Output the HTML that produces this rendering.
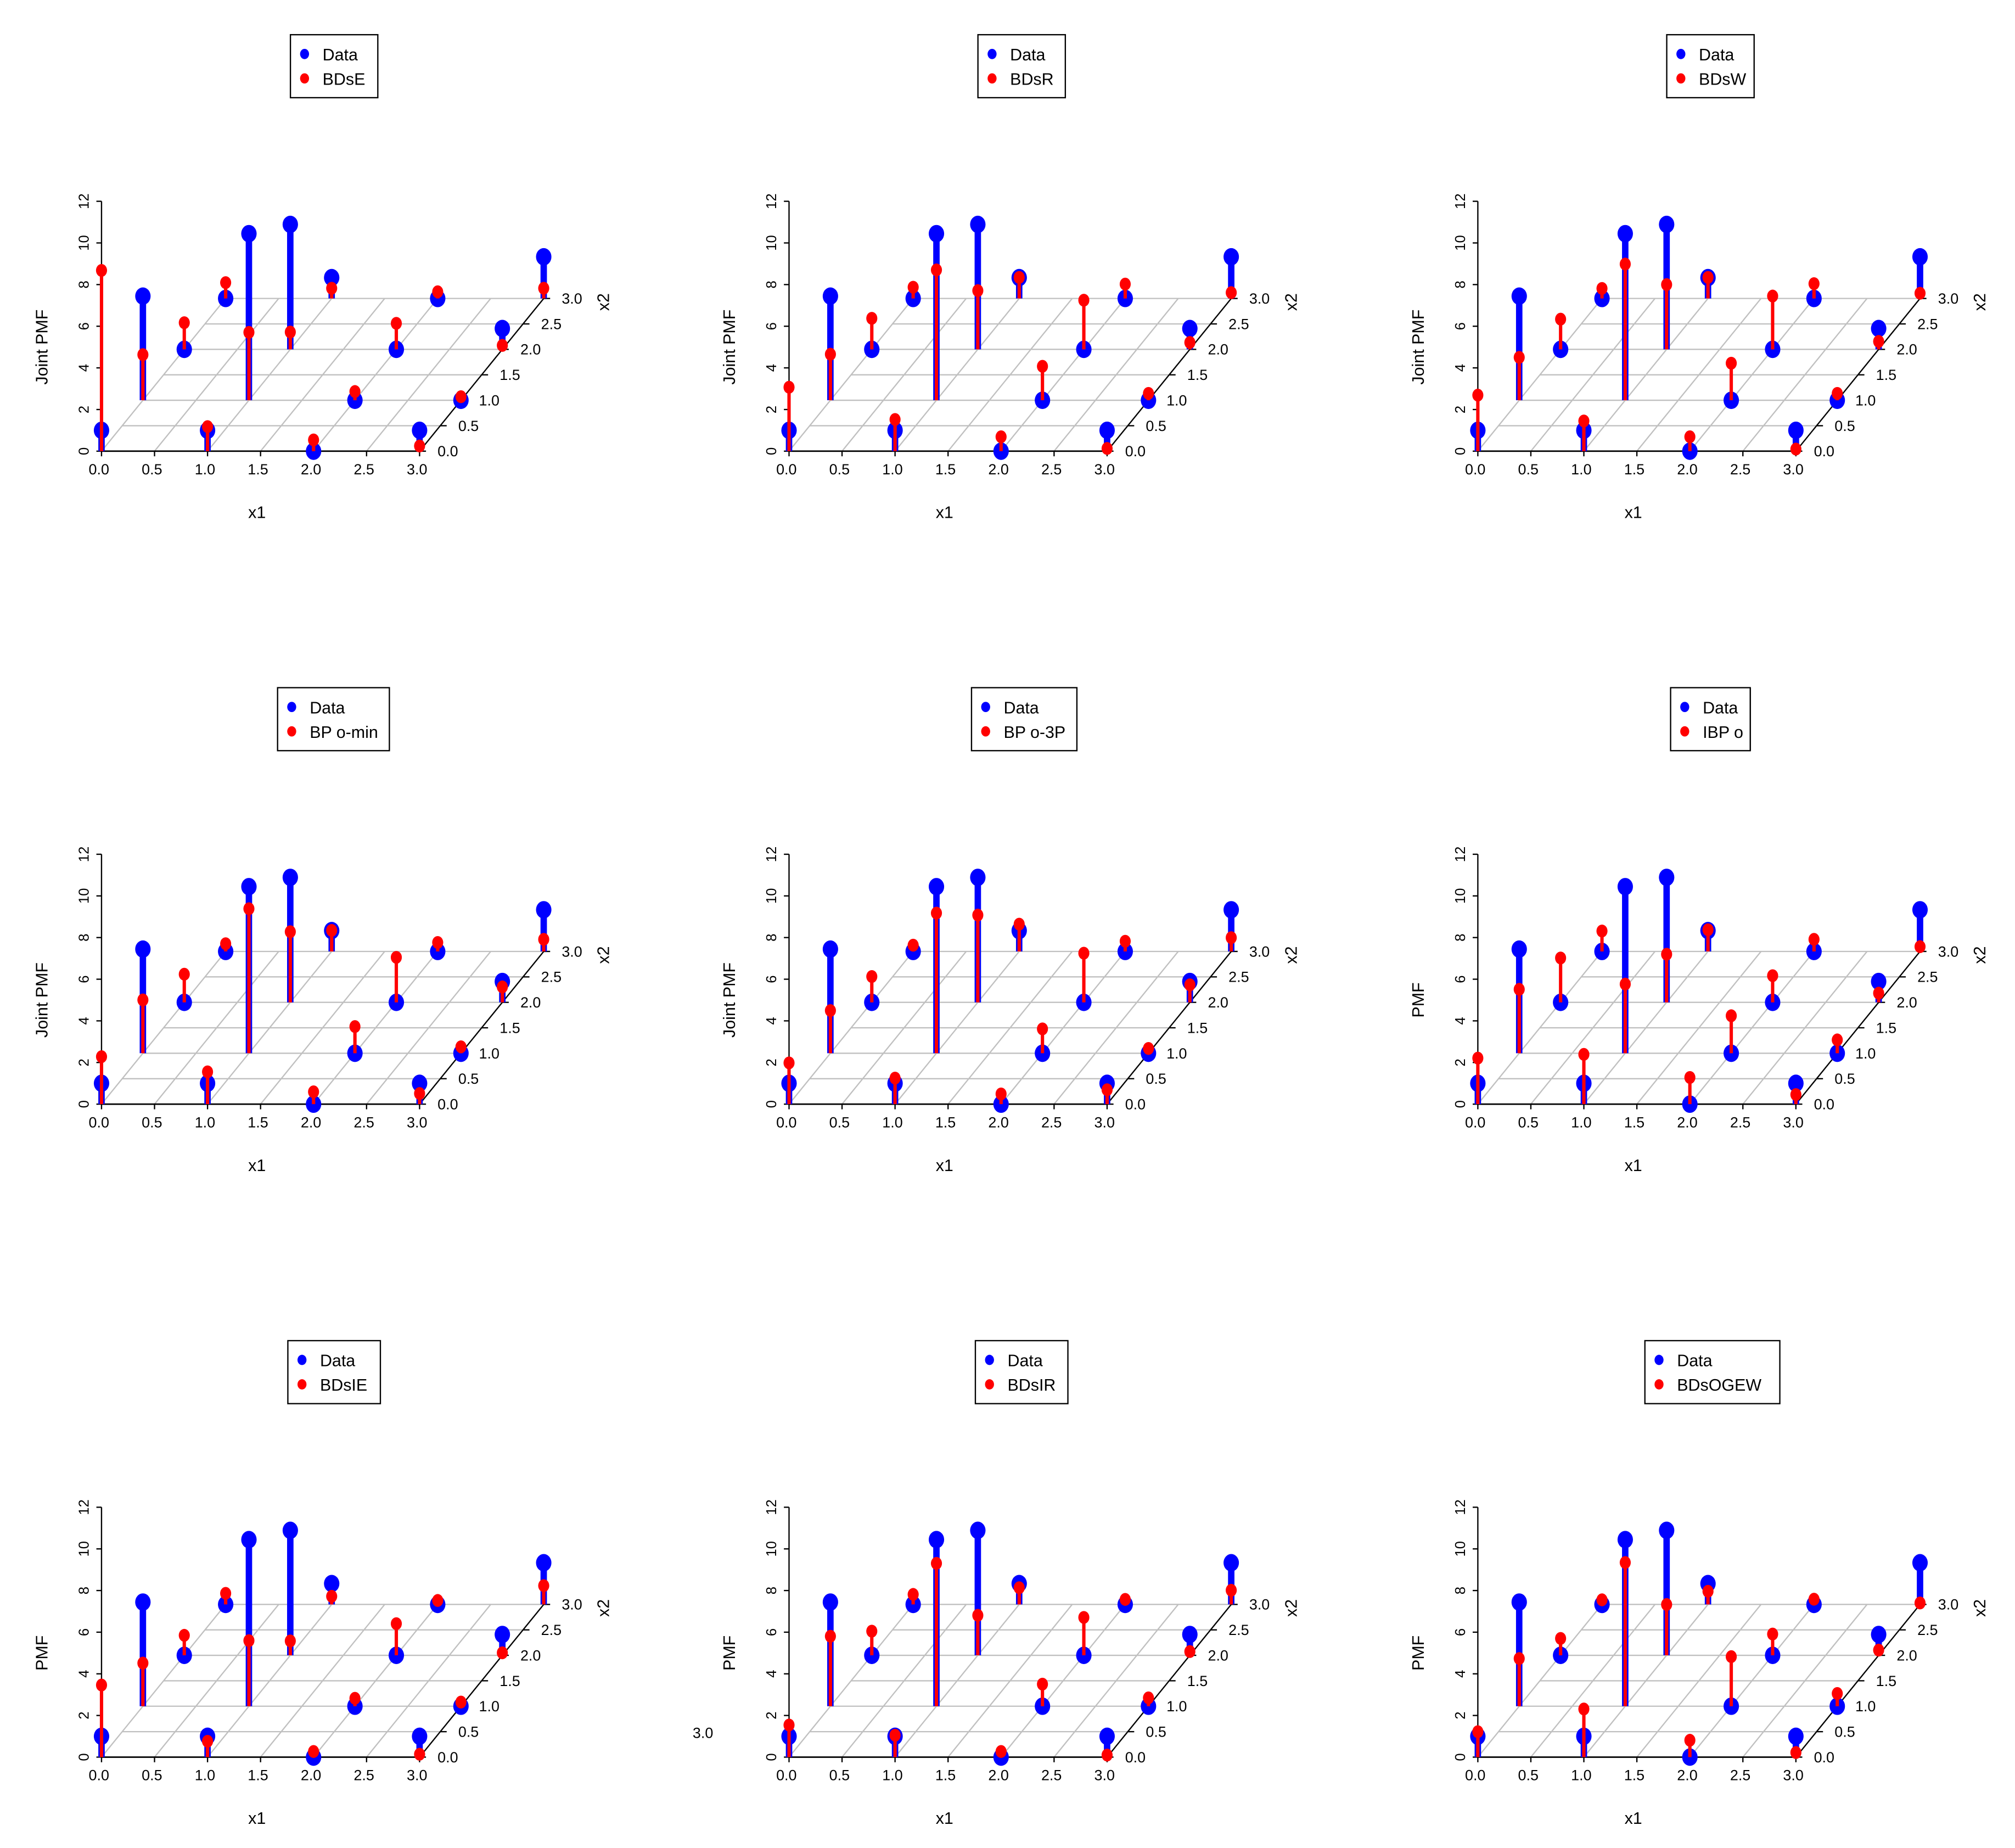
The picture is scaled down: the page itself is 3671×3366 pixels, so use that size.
<!DOCTYPE html>
<html><head><meta charset="utf-8"><style>
html,body{margin:0;padding:0;background:#fff;}
svg{display:block;}
text{font-family:"Liberation Sans",sans-serif;}
</style></head><body>
<svg id="fig" width="3671" height="3366" viewBox="0 0 1568 1437.7" preserveAspectRatio="none" xmlns="http://www.w3.org/2000/svg">
<rect x="0" y="0" width="1568" height="1437.7" fill="#fff"/>
</svg>
<script>
// Observed data (index = x1*4 + x2)
const dataZ = [1.0,5.0,0.0,0.0, 1.0,8.0,6.0,1.0, 0.0,0.0,0.0,0.0, 1.0,0.0,1.0,2.0];
const modelBDsE   = [8.68,2.19,1.28,0.76, 1.18,3.26,0.83,0.49, 0.54,0.42,1.25,0.32, 0.25,0.17,0.19,0.49];
const modelBDsR   = [3.07,2.21,1.49,0.54, 1.52,6.26,2.82,1.01, 0.69,1.63,2.36,0.69, 0.13,0.33,0.33,0.28];
const modelBDsW   = [2.69,2.06,1.45,0.48, 1.45,6.54,3.11,1.01, 0.69,1.78,2.56,0.71, 0.10,0.33,0.38,0.25];
const modelBPmin  = [2.28,2.56,1.35,0.37, 1.55,6.94,3.39,1.01, 0.59,1.28,2.16,0.43, 0.51,0.31,0.74,0.58];
const modelBP3P   = [1.98,2.05,1.24,0.30, 1.25,6.73,4.19,1.31, 0.49,1.17,2.36,0.49, 0.69,0.23,0.84,0.66];
const modelIBP    = [2.21,3.07,2.13,0.98, 2.39,3.32,2.31,1.04, 1.28,1.80,1.28,0.58, 0.46,0.64,0.44,0.23];
const modelBDsIE  = [3.46,2.07,0.96,0.53, 0.76,3.15,0.69,0.39, 0.27,0.38,1.52,0.19, 0.14,0.20,0.12,0.90];
const modelBDsIR  = [1.54,3.36,1.16,0.48, 1.05,6.86,1.92,0.80, 0.27,1.06,1.82,0.24, 0.10,0.40,0.18,0.68];
const modelBDsOGEW= [1.22,2.29,0.81,0.22, 2.31,6.90,2.44,0.63, 0.81,2.38,1.02,0.25, 0.22,0.61,0.25,0.07];
const modelNames = ["BDsE","BDsR","BDsW","BP  o-min","BP  o-3P","IBP  o","BDsIE","BDsIR","BDsOGEW"];
const zTitles = ["Joint PMF","Joint PMF","Joint PMF","Joint PMF","Joint PMF","PMF","PMF","PMF","PMF"];
const zTicks = [0,2,4,6,8,10,12];
const x1Ticks = ["0.0","0.5","1.0","1.5","2.0","2.5","3.0"];
const x2Ticks = ["0.0","0.5","1.0","1.5","2.0","2.5","3.0"];
const models = [modelBDsE,modelBDsR,modelBDsW,modelBPmin,modelBP3P,modelIBP,modelBDsIE,modelBDsIR,modelBDsOGEW];

const NS="http://www.w3.org/2000/svg";
const svg=document.getElementById('fig');
function mk(tag,attrs,parent){const e=document.createElementNS(NS,tag);for(const k in attrs)e.setAttribute(k,attrs[k]);(parent||svg).appendChild(e);return e;}

const colX=[79,614,1150], rowY=[351,859,1367];
const legBox=[[226,68],[761,68],[1297,68],[216,87],[756,82],[1300,62],[224,72],[759,72],[1280,105]];
const UX=82.5, DX=32.2, DY=39.6, UZ=16.2;

models.forEach((model,p)=>{
  const ox=colX[p%3], oy=rowY[Math.floor(p/3)];
  const g=mk('g',{});
  
  
  const sx=(x1,x2)=>ox+UX*x1+DX*x2;
  const sy=(x2,z)=>oy-DY*x2-UZ*z;
  for(let k=1;k<=6;k++){const j=k*0.5;
    const l=mk('line',{x1:sx(0,j),y1:sy(j,0),x2:sx(3,j),y2:sy(j,0),stroke:'#c0c0c0','stroke-width':1},g);
    }
  for(let k=0;k<=6;k++){const i=k*0.5;
    const l=mk('line',{x1:sx(i,0),y1:sy(0,0),x2:sx(i,3),y2:sy(3,0),stroke:'#c0c0c0','stroke-width':1},g);
    }
  const ax=mk('g',{},g);
  mk('line',{x1:sx(0,0),y1:sy(0,0),x2:sx(3,0),y2:sy(0,0),stroke:'#000','stroke-width':1.2},ax);
  mk('line',{x1:sx(3,0),y1:sy(0,0),x2:sx(3,3),y2:sy(3,0),stroke:'#000','stroke-width':1},ax);
  mk('line',{x1:ox,y1:sy(0,0),x2:ox,y2:sy(0,12),stroke:'#000','stroke-width':1},ax);
  zTicks.forEach(v=>{const y=sy(0,v);
    mk('line',{x1:ox-4,y1:y,x2:ox,y2:y,stroke:'#000','stroke-width':1},ax);
    const t=mk('text',{x:ox-10,y:y,'font-size':11,'text-anchor':'middle',transform:`rotate(-90 ${ox-10} ${y})`},ax);
    t.textContent=v;});
  x1Ticks.forEach((s,k)=>{const x=sx(k*0.5,0);
    mk('line',{x1:x,y1:oy,x2:x,y2:oy+4,stroke:'#000','stroke-width':1},ax);
    const t=mk('text',{x:x-2,y:oy+18,'font-size':11.5,'text-anchor':'middle'},ax);
    t.textContent=s;});
  x2Ticks.forEach((s,k)=>{const j=k*0.5;const x=sx(3,j),y=sy(j,0);
    mk('line',{x1:x,y1:y,x2:x+5,y2:y,stroke:'#000','stroke-width':1},ax);
    const t=mk('text',{x:x+14,y:y+4,'font-size':11.5},ax);
    t.textContent=s;});
  const zt=mk('text',{x:ox-42,y:oy-81,'font-size':13,'text-anchor':'middle',transform:`rotate(-90 ${ox-42} ${oy-81})`},g);
  zt.textContent=zTitles[p];
  const x1t=mk('text',{x:ox+121,y:oy+52,'font-size':13,'text-anchor':'middle'},g);
  x1t.textContent='x1';
  const x2t=mk('text',{x:ox+395,y:oy-116,'font-size':13,'text-anchor':'middle',transform:`rotate(-90 ${ox+395} ${oy-116})`},g);
  x2t.textContent='x2';
  for(let j=3;j>=0;j--){for(let i=0;i<4;i++){
    const x=sx(i,j), yb=sy(j,0), d=dataZ[i*4+j], m=model[i*4+j];
    const bs=mk('line',{x1:x,y1:yb,x2:x,y2:sy(j,d),stroke:'#0000ff','stroke-width':5},g);
    
    const bd=mk('ellipse',{cx:x,cy:sy(j,d),rx:6,ry:6.8,fill:'#0000ff'},g);
    
    const rs=mk('line',{x1:x,y1:yb,x2:x,y2:sy(j,m),stroke:'#ff0000','stroke-width':2.6},g);
    
    const rd=mk('ellipse',{cx:x,cy:sy(j,m),rx:4.3,ry:5,fill:'#ff0000'},g);
    
  }}
  const lx=legBox[p][0], lw=legBox[p][1], ly=oy-324;
  const lg=mk('g',{},g);
  mk('rect',{x:lx,y:ly,width:lw,height:49,fill:'#fff',stroke:'#000','stroke-width':1},lg);
  mk('ellipse',{cx:lx+11,cy:ly+15,rx:3.5,ry:4,fill:'#0000ff'},lg);
  mk('ellipse',{cx:lx+11,cy:ly+34,rx:3.5,ry:4,fill:'#ff0000'},lg);
  const t1=mk('text',{x:lx+25,y:ly+20,'font-size':13},lg);t1.textContent='Data';
  const t2=mk('text',{x:lx+25,y:ly+39,'font-size':13,'xml:space':'preserve'},lg);t2.textContent=modelNames[p];
  if(p===5){mk('rect',{x:lx+lw+0.5,y:ly-1,width:20,height:52,fill:'#fff'},lg);mk('line',{x1:lx+lw,y1:ly,x2:lx+lw,y2:ly+49,stroke:'#000','stroke-width':1},lg);}
});
const stray=mk('text',{x:547,y:1352,'font-size':11.5,'text-anchor':'middle'});


stray.textContent='3.0';
</script>
</body></html>
